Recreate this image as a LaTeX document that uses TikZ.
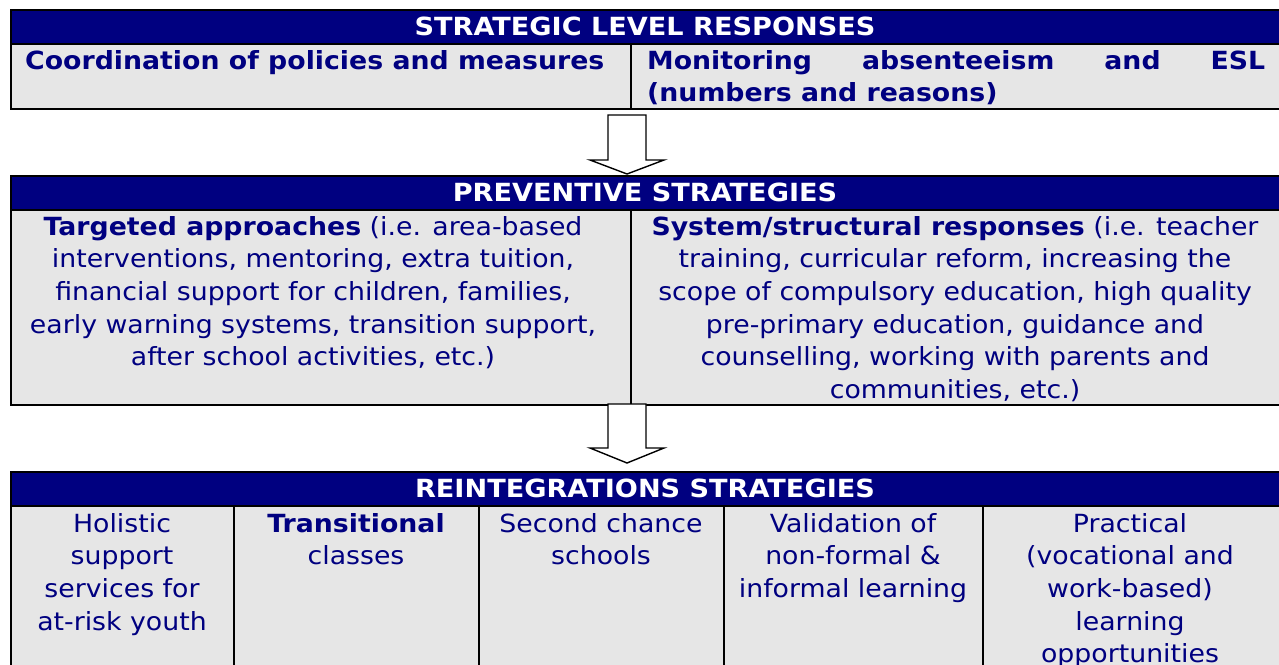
\documentclass[tikz,border=0pt]{standalone}
\usepackage{fontspec}
\setmainfont{DejaVu Sans}[FakeStretch=1.07]
\newfontfamily\hdrfont[FakeStretch=1.085]{DejaVu Sans Bold}
\definecolor{navy}{HTML}{000080}
\definecolor{cellgray}{HTML}{E6E6E6}
\tikzset{
  hdr/.style={fill=navy, draw=black, line width=2pt, inner sep=0pt, anchor=north west},
  cellbox/.style={fill=cellgray, draw=black, line width=2pt, inner sep=0pt, anchor=north west},
  hdrtext/.style={text=white, inner sep=0pt, anchor=base, font=\hdrfont\fontsize{25}{30}\selectfont},
  bodytext/.style={text=navy, inner sep=0pt, align=center, anchor=north, font=\fontsize{25}{32.6}\selectfont},
  downarrow/.style={draw=black, line width=1.4pt, fill=white, line join=miter}
}
\newcommand{\fl}{\rule{0pt}{20pt}}
\begin{document}
\begin{tikzpicture}[x=1pt,y=-1pt]
\useasboundingbox (0,0) rectangle (1279,664);
% ---------- Table 1 ----------
\node[hdr, minimum width=1270pt, minimum height=34pt] (h1) at (10,9) {};
\node[hdrtext] (h1t) at (645,35) {STRATEGIC LEVEL RESPONSES};
\node[cellbox, minimum width=620pt, minimum height=65pt] (a1) at (10,43) {};
\node[cellbox, minimum width=650pt, minimum height=65pt] (a2) at (630,43) {};
\node[bodytext, align=left, anchor=north west] (a1t) at (25,49) {\fl\bfseries Coordination of policies and measures};
\node[bodytext, align=left, anchor=north west] (a2t) at (647,49) {\fl\bfseries\hbox to 618pt{Monitoring\hfill absenteeism\hfill and\hfill ESL}\\ \bfseries (numbers and reasons)};
% arrow 1
\draw[downarrow] (608,115) -- (608,160) -- (590,160) -- (627,174) -- (664,160) -- (646,160) -- (646,115) -- cycle;
% ---------- Table 2 ----------
\node[hdr, minimum width=1270pt, minimum height=34pt] (h2) at (10,175) {};
\node[hdrtext] (h2t) at (645,201) {PREVENTIVE STRATEGIES};
\node[cellbox, minimum width=620pt, minimum height=195pt] (b1) at (10,209) {};
\node[cellbox, minimum width=650pt, minimum height=195pt] (b2) at (630,209) {};
\node[bodytext] (b1t) at (313,215) {\fl\textbf{Targeted approaches} (i.e. area-based\\interventions, mentoring, extra tuition,\\financial support for children, families,\\early warning systems, transition support,\\after school activities, etc.)};
\node[bodytext] (b2t) at (955,215) {\fl\textbf{System/structural responses} (i.e. teacher\\training, curricular reform, increasing the\\scope of compulsory education, high quality\\pre-primary education, guidance and\\counselling, working with parents and\\communities, etc.)};
% arrow 2
\draw[downarrow] (608,404) -- (608,448) -- (590,448) -- (627,463) -- (664,448) -- (646,448) -- (646,404) -- cycle;
% ---------- Table 3 ----------
\node[hdr, minimum width=1270pt, minimum height=34pt] (h3) at (10,471) {};
\node[hdrtext] (h3t) at (645,497) {REINTEGRATIONS STRATEGIES};
\node[cellbox, minimum width=223pt, minimum height=170pt] (c1) at (10,505) {};
\node[cellbox, minimum width=245pt, minimum height=170pt] (c2) at (233,505) {};
\node[cellbox, minimum width=245pt, minimum height=170pt] (c3) at (478,505) {};
\node[cellbox, minimum width=259pt, minimum height=170pt] (c4) at (723,505) {};
\node[cellbox, minimum width=298pt, minimum height=170pt] (c5) at (982,505) {};
\node[bodytext] (c1t) at (122,512) {\fl Holistic\\support\\services for\\at-risk youth};
\node[bodytext] (c2t) at (356,512) {\fl\textbf{Transitional}\\classes};
\node[bodytext] (c3t) at (601,512) {\fl Second chance\\schools};
\node[bodytext] (c4t) at (853,512) {\fl Validation of\\non-formal \&\\informal learning};
\node[bodytext] (c5t) at (1130,512) {\fl Practical\\(vocational and\\work-based)\\learning\\opportunities};
\end{tikzpicture}
\end{document}
